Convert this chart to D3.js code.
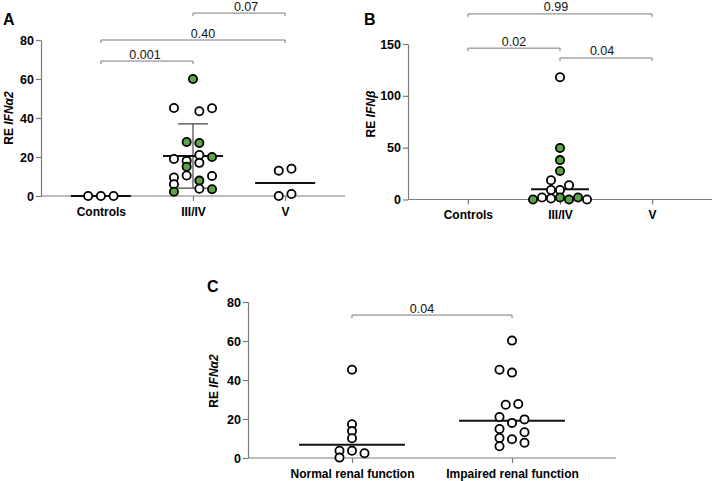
<!DOCTYPE html>
<html>
<head>
<meta charset="utf-8">
<script src="https://cdn.jsdelivr.net/npm/d3@7"></script>
<style>
  html, body { margin: 0; padding: 0; background: #fff; }
  svg { display: block; font-family: "Liberation Sans", Arial, Helvetica, sans-serif; }
</style>
</head>
<body>
<svg id="chart" width="716" height="481"></svg>
<script>
// ---------------- DATA ----------------
// Panel A: RE IFNα2 by group
const catsA = ["Controls", "III/IV", "V"];
const ticksA = [0, 20, 40, 60, 80];
const aControlsVals = [0, 0, 0];
const aControlsCol  = [-1, 0, 1];
const aIIIIVVals  = [60, 45.1, 43.5, 45, 27.7, 27.2, 19, 18, 21, 17, 20, 15, 9.5, 10.5, 10.3, 6, 7.9, 2.2, 3.7, 3.5];
const aIIIIVCol   = [0, -1.5, 0.5, 1.5, -0.5, 0.5, -1.5, -0.5, 0.5, 0.5, 1.5, -0.5, -1.5, -0.5, 1.5, -1.5, 0.5, -1.5, 0.5, 1.5];
const aIIIIVGreen = [1, 0, 0, 0, 1, 1, 0, 0, 0, 0, 1, 1, 0, 0, 0, 0, 1, 1, 0, 1];
const aVVals = [13, 14, 0, 1];
const aVCol  = [-0.5, 0.5, -0.5, 0.5];
const aCenter = [0, 20.5, 6.7];          // median / mean line per group
const aErrIIIIV = [4, 37];               // SD bar for III/IV
const aPvals = ["0.001", "0.40", "0.07"];
const aPfrom = ["Controls", "Controls", "III/IV"];
const aPto   = ["III/IV", "V", "V"];
const aPlevel = [69.2, 80, 93.8];

// Panel B: RE IFNβ by group
const catsB = ["Controls", "III/IV", "V"];
const ticksB = [0, 50, 100, 150];
const bIIIIVVals  = [118, 49.7, 38, 27.5, 18.5, 9.2, 9.2, 13.7, 0, 2, 1, 2, 0, 2, 0];
const bIIIIVCol   = [0, 0, 0, 0, -1, -1, 0, 1, -3, -2, -1, 0, 1, 2, 3];
const bIIIIVGreen = [0, 1, 1, 1, 0, 0, 0, 0, 1, 0, 0, 1, 1, 1, 0];
const bCenter = [null, 9.8, null];
const bPvals = ["0.99", "0.02", "0.04"];
const bPfrom = ["Controls", "Controls", "III/IV"];
const bPto   = ["V", "III/IV", "V"];
const bPlevel = [179, 146, 136.5];

// Panel C: RE IFNα2 by renal function
const catsC = ["Normal renal function", "Impaired renal function"];
const ticksC = [0, 20, 40, 60, 80];
const cNormalVals = [45.3, 17.3, 13.8, 10.1, 3.7, 3.7, 2.4, 0.2];
const cNormalCol  = [0, 0, 0, 0, -1, 0, 1, -1];
const cImpairedVals = [60.2, 45.3, 43.8, 27.3, 27.7, 21, 18, 19.8, 14.9, 13.2, 10.3, 9.6, 7.8, 6];
const cImpairedCol  = [0, -1, 0, -0.5, 0.5, -1, 0, 1, -1, 1, -1, 0, 1, -1];
const cCenter = [6.8, 19.1];
const cPvals = ["0.04"];
const cPfrom = ["Normal renal function"];
const cPto   = ["Impaired renal function"];
const cPlevel = [73.3];

// ---------------- DRAW ----------------
const svg = d3.select("#chart");
const GREEN = "#5aa646";
const AXIS = "#7a7a7a";

function panel(cfg) {
  const g = svg.append("g");
  const x = d3.scalePoint().domain(cfg.cats).range([cfg.x0, cfg.x1]).padding(0.65);
  const y = d3.scaleLinear().domain([0, cfg.ticks[cfg.ticks.length - 1]]).range([cfg.yBottom, cfg.yTop]);

  // y axis
  const ya = g.append("g").attr("transform", `translate(${cfg.x0},0)`)
    .call(d3.axisLeft(y).tickValues(cfg.ticks).tickSize(5).tickSizeOuter(0).tickPadding(2));
  ya.select(".domain").attr("stroke", AXIS).attr("stroke-width", 1.2);
  ya.selectAll(".tick line").attr("stroke", AXIS).attr("stroke-width", 1.2);
  ya.selectAll(".tick text").attr("font-size", 12.5).attr("font-weight", "bold").attr("fill", "#000")
    .attr("font-family", "Liberation Sans, Arial, sans-serif");

  // x axis
  const xa = g.append("g").attr("transform", `translate(0,${cfg.yBottom})`)
    .call(d3.axisBottom(x).tickSize(5).tickSizeOuter(0).tickPadding(6));
  xa.select(".domain").attr("d", `M${cfg.x0},0H${cfg.x1}`).attr("stroke", AXIS).attr("stroke-width", 1.2);
  xa.selectAll(".tick line").attr("stroke", AXIS).attr("stroke-width", 1.2);
  xa.selectAll(".tick text").attr("font-size", 12).attr("font-weight", "bold").attr("fill", "#000")
    .attr("font-family", "Liberation Sans, Arial, sans-serif");

  // y label
  const yl = g.append("text")
    .attr("transform", `translate(${cfg.labelX},${cfg.labelY}) rotate(-90)`)
    .attr("text-anchor", "middle").attr("font-size", 12).attr("font-weight", "bold");
  yl.append("tspan").text("RE ");
  yl.append("tspan").attr("font-style", "italic").text(cfg.gene);

  // panel letter
  g.append("text").attr("x", cfg.letterX).attr("y", cfg.letterY)
    .attr("font-size", 16).attr("font-weight", "bold").text(cfg.letter);

  // brackets
  cfg.brackets.forEach(b => {
    const xa1 = x(b.from), xa2 = x(b.to), yy = y(b.level);
    g.append("path")
      .attr("d", `M${xa1},${yy + 3}V${yy}H${xa2}V${yy + 3}`)
      .attr("fill", "none").attr("stroke", AXIS).attr("stroke-width", 1);
    g.append("text").attr("x", (xa1 + xa2) / 2 + b.dx).attr("y", yy - 2.5)
      .attr("text-anchor", "middle").attr("font-size", 12.5).attr("fill", "#111").text(b.p);
  });

  // error bars
  (cfg.errors || []).forEach(e => {
    const cx = x(e.cat);
    g.append("path")
      .attr("d", `M${cx},${y(e.lo)}V${y(e.hi)}M${cx - e.cap},${y(e.lo)}H${cx + e.cap}M${cx - e.cap},${y(e.hi)}H${cx + e.cap}`)
      .attr("fill", "none").attr("stroke", "#444").attr("stroke-width", 1.2);
  });

  // center lines
  cfg.centers.forEach((c, i) => {
    if (c == null) return;
    const cx = x(cfg.cats[i]);
    g.append("line").attr("x1", cx - cfg.lineHalf).attr("x2", cx + cfg.lineHalf)
      .attr("y1", y(c)).attr("y2", y(c)).attr("stroke", "#111").attr("stroke-width", 2);
  });

  // points
  cfg.groups.forEach(grp => {
    const cx = x(grp.cat);
    const pts = grp.vals.map((v, i) => ({ v, c: grp.cols[i], gr: grp.green ? grp.green[i] : 0 }));
    g.selectAll(null).data(pts).enter().append("circle")
      .attr("cx", d => cx + d.c * cfg.step)
      .attr("cy", d => y(d.v))
      .attr("r", 4.1)
      .attr("fill", d => d.gr ? GREEN : "#fff")
      .attr("stroke", "#000").attr("stroke-width", 1.8);
  });
}

function mkBrackets(from, to, pv, lv, dx) {
  return pv.map((p, i) => ({ from: from[i], to: to[i], p, level: lv[i], dx: dx[i] }));
}

panel({
  cats: catsA, ticks: ticksA, x0: 41, x1: 345, yTop: 40, yBottom: 196,
  gene: "IFNα2", letter: "A", letterX: 3, letterY: 25, labelX: 13, labelY: 118,
  step: 12.7, lineHalf: 30,
  brackets: mkBrackets(aPfrom, aPto, aPvals, aPlevel, [-2, 10, 7]),
  errors: [{ cat: "III/IV", lo: aErrIIIIV[0], hi: aErrIIIIV[1], cap: 15 }],
  centers: aCenter,
  groups: [
    { cat: "Controls", vals: aControlsVals, cols: aControlsCol },
    { cat: "III/IV", vals: aIIIIVVals, cols: aIIIIVCol, green: aIIIIVGreen },
    { cat: "V", vals: aVVals, cols: aVCol }
  ]
});

panel({
  cats: catsB, ticks: ticksB, x0: 408, x1: 712, yTop: 44, yBottom: 199.5,
  gene: "IFNβ", letter: "B", letterX: 364, letterY: 25, labelX: 375, labelY: 114,
  step: 9, lineHalf: 29,
  brackets: mkBrackets(bPfrom, bPto, bPvals, bPlevel, [-4, 0, -4]),
  centers: bCenter,
  groups: [
    { cat: "III/IV", vals: bIIIIVVals, cols: bIIIIVCol, green: bIIIIVGreen }
  ]
});

panel({
  cats: catsC, ticks: ticksC, x0: 248, x1: 616, yTop: 302, yBottom: 458,
  gene: "IFNα2", letter: "C", letterX: 207, letterY: 292, labelX: 218, labelY: 381,
  step: 12.5, lineHalf: 53,
  brackets: mkBrackets(cPfrom, cPto, cPvals, cPlevel, [-10]),
  centers: cCenter,
  groups: [
    { cat: "Normal renal function", vals: cNormalVals, cols: cNormalCol },
    { cat: "Impaired renal function", vals: cImpairedVals, cols: cImpairedCol }
  ]
});
</script>
</body>
</html>
